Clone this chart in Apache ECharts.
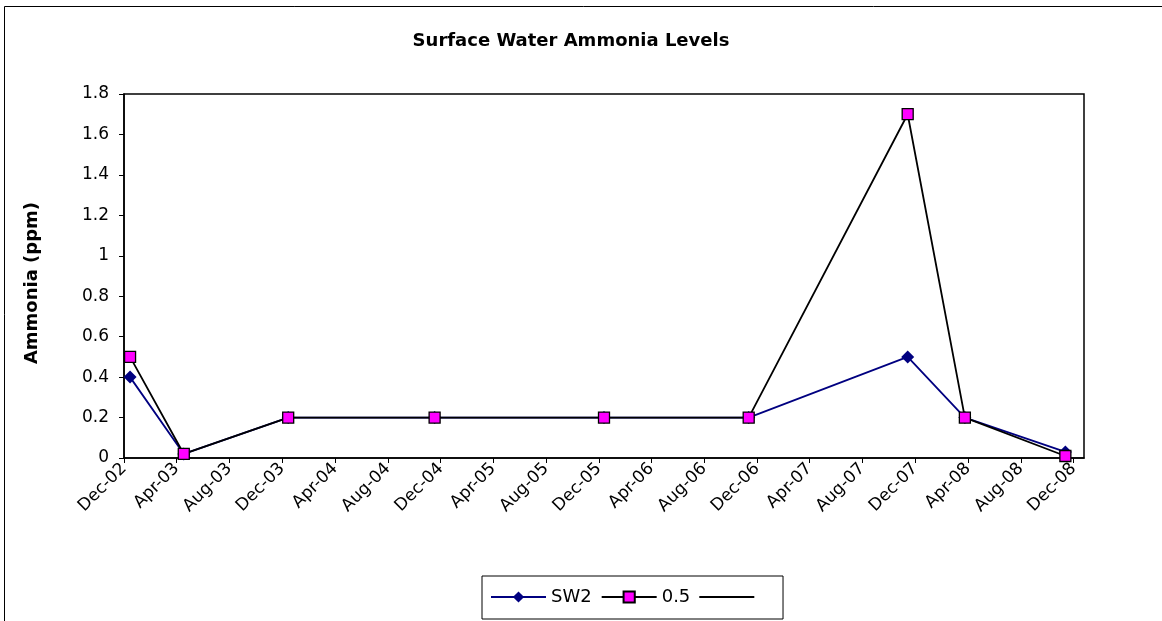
<!DOCTYPE html>
<html>
<head>
<meta charset="utf-8">
<script src="https://cdn.jsdelivr.net/npm/echarts@6/dist/echarts.min.js"></script>
<style>
html,body{margin:0;padding:0;background:#fff;}
#chart{width:1162px;height:621px;}
</style>
</head>
<body>
<div id="chart"></div>
<script>
// ---- data ----
const sampleDates = ['2002-12-15','2003-04-18','2003-12-15','2004-11-17','2005-12-13','2006-11-12','2007-11-14','2008-03-25','2008-11-12'];
const sw2Values   = [0.4, 0.02, 0.2, 0.2, 0.2, 0.2, 0.5, 0.2, 0.03];
const refValues   = [0.5, 0.02, 0.2, 0.2, 0.2, 0.2, 1.7, 0.2, 0.01];
const tickDates = ['2002-12-01','2003-04-01','2003-08-01','2003-12-01','2004-04-01','2004-08-01','2004-12-01','2005-04-01','2005-08-01','2005-12-01','2006-04-01','2006-08-01','2006-12-01','2007-04-01','2007-08-01','2007-12-01','2008-04-01','2008-08-01','2008-12-01'];
const tickLabels = ['Dec-02','Apr-03','Aug-03','Dec-03','Apr-04','Aug-04','Dec-04','Apr-05','Aug-05','Dec-05','Apr-06','Aug-06','Dec-06','Apr-07','Aug-07','Dec-07','Apr-08','Aug-08','Dec-08'];
const axisMinDate = '2002-12-01';
const axisMaxDate = '2008-12-25';
const seriesNames = ['SW2', '0.5', ' '];

// day number (UTC based, no timezone drift)
function toDay(s){ const p = s.split('-').map(Number); return Date.UTC(p[0], p[1]-1, p[2]) / 86400000; }
const tickDays = tickDates.map(toDay);
const labelByDay = {};
tickDays.forEach((t,i)=>{ labelByDay[t] = tickLabels[i]; });

const FONT = '"DejaVu Sans", "Liberation Sans", Arial, sans-serif';
const chart = echarts.init(document.getElementById('chart'));
chart.setOption({
  animation: false,
  backgroundColor: '#fff',
  title: {
    text: 'Surface Water Ammonia Levels',
    left: 566, top: 27, textAlign: 'center',
    textStyle: { fontFamily: FONT, fontSize: 18, fontWeight: 'bold', color: '#000' }
  },
  graphic: [{
    type: 'rect', shape: { x: 4.5, y: 6.5, width: 1200, height: 700 },
    style: { fill: 'none', stroke: '#000', lineWidth: 1 }, silent: true, z: -1
  }],
  legend: {
    left: 482, top: 576,
    padding: [12, 18, 13, 8],
    itemGap: 9,
    itemWidth: 55, itemHeight: 14,
    borderColor: '#000', borderWidth: 1,
    textStyle: { fontFamily: FONT, fontSize: 18, color: '#000' },
    data: [
      { name: seriesNames[0] },
      { name: seriesNames[1] },
      { name: seriesNames[2], icon: 'path://M0,0H56V1.8H0Z' }
    ]
  },
  grid: {
    left: 124, top: 94, right: 78, bottom: 163,
    show: true, borderColor: '#000', borderWidth: 1.5
  },
  xAxis: {
    type: 'value',
    min: toDay(axisMinDate), max: toDay(axisMaxDate),
    axisLine: { show: true, lineStyle: { color: '#000', width: 1.5 } },
    axisTick: { show: true, length: 5, customValues: tickDays, lineStyle: { color: '#000' } },
    splitLine: { show: false },
    axisLabel: {
      customValues: tickDays, rotate: 45, margin: 8,
      fontFamily: FONT, fontSize: 17, color: '#000',
      formatter: v => labelByDay[v] || ''
    }
  },
  yAxis: {
    type: 'value', min: 0, max: 1.8, interval: 0.2,
    name: 'Ammonia (ppm)', nameLocation: 'middle', nameGap: 83, nameRotate: 90,
    nameTextStyle: { fontFamily: FONT, fontSize: 18, fontWeight: 'bold', color: '#000', padding: [0, 14, 0, 0] },
    axisLine: { show: true, lineStyle: { color: '#000', width: 1.5 } },
    axisTick: { show: true, length: 5, inside: false, lineStyle: { color: '#000' } },
    splitLine: { show: false },
    axisLabel: {
      margin: 15, fontFamily: FONT, fontSize: 17, color: '#000',
      formatter: v => String(Math.round(v * 10) / 10)
    }
  },
  series: [
    {
      name: seriesNames[0], type: 'line',
      data: sampleDates.map((d, i) => [toDay(d), sw2Values[i]]),
      symbol: 'diamond', symbolSize: 13,
      lineStyle: { color: '#000080', width: 1.8 },
      itemStyle: { color: '#000080' }, z: 2
    },
    {
      name: seriesNames[1], type: 'line',
      data: sampleDates.map((d, i) => [toDay(d), refValues[i]]),
      symbol: 'rect', symbolSize: 11,
      lineStyle: { color: '#000', width: 1.8 },
      itemStyle: { color: '#ff00ff', borderColor: '#000', borderWidth: 1.3 }, z: 3
    },
    {
      name: seriesNames[2], type: 'line', data: [],
      symbol: 'none', showSymbol: false,
      lineStyle: { color: '#000', width: 1.8 },
      itemStyle: { color: '#000' }
    }
  ]
});
</script>
</body>
</html>
